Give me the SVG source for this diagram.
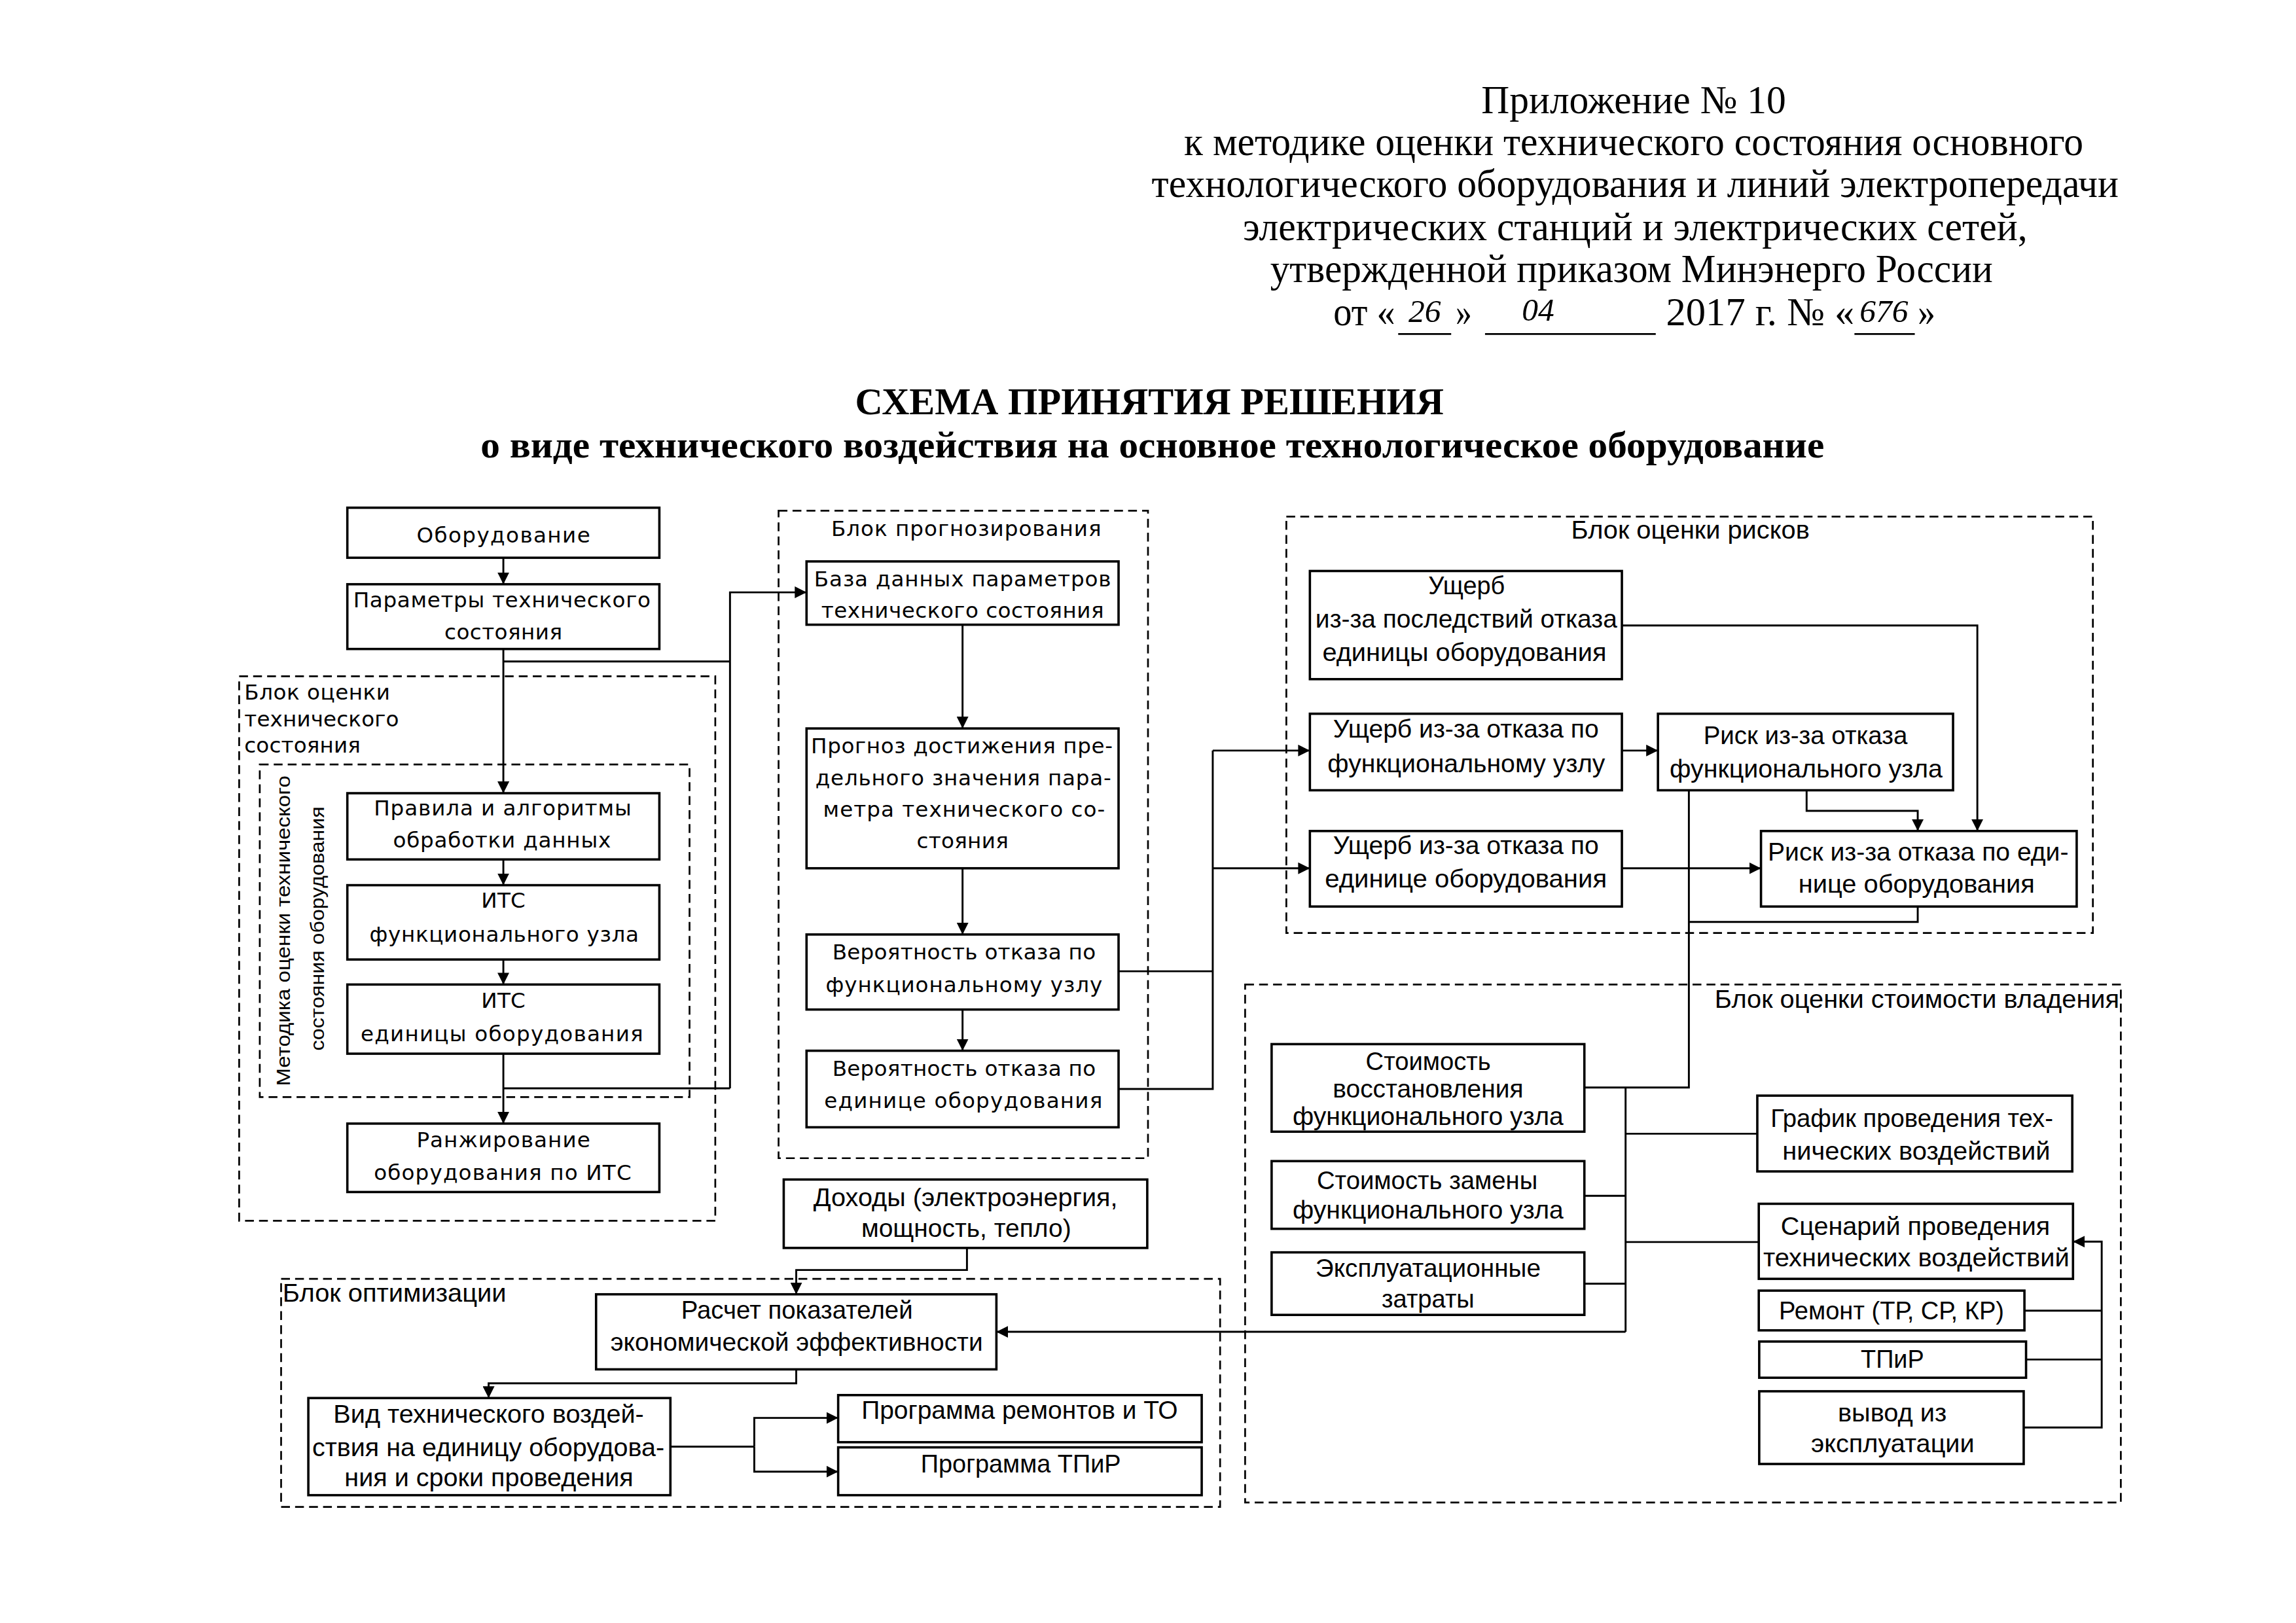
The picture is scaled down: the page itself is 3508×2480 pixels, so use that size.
<svg xmlns="http://www.w3.org/2000/svg" width="3508" height="2480" viewBox="0 0 3508 2480">
<defs>
<style>
.h{font-family:"Liberation Serif","Times New Roman",serif;font-size:27px;text-anchor:middle;fill:#000}
.hs{font-family:"Liberation Serif","Times New Roman",serif;font-size:27px;text-anchor:start;fill:#000}
.hw{font-family:"Liberation Serif","Times New Roman",serif;font-size:22px;font-style:italic;text-anchor:middle;fill:#000}
.t{font-family:"Liberation Serif","Times New Roman",serif;font-size:25.5px;font-weight:bold;text-anchor:middle;fill:#000}
.v{font-family:"DejaVu Sans",Verdana,sans-serif;font-size:14.5px;text-anchor:middle;fill:#000}
.vs{font-family:"DejaVu Sans",Verdana,sans-serif;font-size:14.5px;text-anchor:start;fill:#000}
.c{font-family:"Liberation Sans",Arial,sans-serif;font-size:17px;text-anchor:middle;fill:#000}
.cs{font-family:"Liberation Sans",Arial,sans-serif;font-size:17px;text-anchor:start;fill:#000}
.m{font-family:"Liberation Sans",Arial,sans-serif;font-size:13.5px;text-anchor:middle;fill:#000}
.box{fill:#fff;stroke:#000;stroke-width:1.6}
.dash{fill:none;stroke:#000;stroke-width:1.2;stroke-dasharray:6 3.5}
.ln{fill:none;stroke:#000;stroke-width:1.3}
.ul{stroke:#000;stroke-width:1.2}
.arr{marker-end:url(#ah)}
</style>
<marker id="ah" markerUnits="userSpaceOnUse" markerWidth="8" markerHeight="8" refX="8" refY="4" orient="auto">
<path d="M0,0 L8,4 L0,8 z" fill="#000"/>
</marker>
</defs>
<rect x="0" y="0" width="3508" height="2480" fill="#fff"/>
<g transform="scale(2.2487)">
<g id="header">
<text class="h" x="1110" y="77" textLength="207" lengthAdjust="spacingAndGlyphs">Приложение № 10</text>
<text class="h" x="1110" y="105.5" textLength="611" lengthAdjust="spacingAndGlyphs">к методике оценки технического состояния основного</text>
<text class="h" x="1111" y="134" textLength="657" lengthAdjust="spacingAndGlyphs">технологического оборудования и линий электропередачи</text>
<text class="h" x="1111" y="163" textLength="533" lengthAdjust="spacingAndGlyphs">электрических станций и электрических сетей,</text>
<text class="h" x="1108.5" y="191.5" textLength="491" lengthAdjust="spacingAndGlyphs">утвержденной приказом Минэнерго России</text>
<text class="hs" x="906" y="221" textLength="42" lengthAdjust="spacingAndGlyphs">от «</text>
<text class="hw" x="968" y="219">26</text>
<line class="ul" x1="950" y1="227" x2="986" y2="227"/>
<text class="hs" x="989" y="221" textLength="11" lengthAdjust="spacingAndGlyphs">»</text>
<text class="hw" x="1045" y="218">04</text>
<line class="ul" x1="1009" y1="227" x2="1125" y2="227"/>
<text class="hs" x="1132" y="221" textLength="128" lengthAdjust="spacingAndGlyphs">2017 г. № «</text>
<text class="hw" x="1280" y="219">676</text>
<line class="ul" x1="1260" y1="227" x2="1301" y2="227"/>
<text class="hs" x="1303" y="221" textLength="12" lengthAdjust="spacingAndGlyphs">»</text>
</g>
<g id="title">
<text class="t" x="781" y="281.5" textLength="400" lengthAdjust="spacingAndGlyphs">СХЕМА ПРИНЯТИЯ РЕШЕНИЯ</text>
<text class="t" x="783" y="311" textLength="913" lengthAdjust="spacingAndGlyphs">о виде технического воздействия на основное технологическое оборудование</text>
</g>

<g id="block-tech-state">
<rect class="dash" x="162.5" y="459.5" width="323.5" height="370"/>
<text class="vs" x="166" y="475.5" textLength="99" lengthAdjust="spacing">Блок оценки</text>
<text class="vs" x="166" y="493.7" textLength="105" lengthAdjust="spacing">технического</text>
<text class="vs" x="166" y="511.5" textLength="79" lengthAdjust="spacing">состояния</text>
</g>
<g id="block-method">
<rect class="dash" x="176.5" y="519.5" width="292" height="226"/>
<text class="m" transform="translate(197,632.5) rotate(-90)" textLength="211" lengthAdjust="spacingAndGlyphs">Методика оценки технического</text>
<text class="m" transform="translate(220,631) rotate(-90)" textLength="166" lengthAdjust="spacingAndGlyphs">состояния оборудования</text>
</g>
<g id="block-forecast">
<rect class="dash" x="529" y="347" width="251" height="440"/>
<text class="v" x="656.5" y="364.2" textLength="183.5" lengthAdjust="spacing">Блок прогнозирования</text>
</g>
<g id="block-risk">
<rect class="dash" x="874" y="351" width="548" height="283"/>
<text class="c" x="1148.5" y="366" textLength="162" lengthAdjust="spacingAndGlyphs">Блок оценки рисков</text>
</g>
<g id="block-cost">
<rect class="dash" x="846" y="669" width="595" height="352"/>
<text class="cs" x="1165" y="685" textLength="275" lengthAdjust="spacingAndGlyphs">Блок оценки стоимости владения</text>
</g>
<g id="block-opt">
<rect class="dash" x="191" y="869" width="638" height="155"/>
<text class="cs" x="192" y="884.7" textLength="152" lengthAdjust="spacingAndGlyphs">Блок оптимизации</text>
</g>

<g id="n-equipment">
<rect class="box" x="236" y="345" width="212" height="34"/>
<text class="v" x="342" y="368.5" textLength="118" lengthAdjust="spacing">Оборудование</text>
</g>
<g id="n-params">
<rect class="box" x="236" y="397" width="212" height="44"/>
<text class="v" x="341" y="412.6" textLength="202" lengthAdjust="spacing">Параметры технического</text>
<text class="v" x="342" y="434.4" textLength="80" lengthAdjust="spacing">состояния</text>
</g>
<g id="n-rules">
<rect class="box" x="236" y="539" width="212" height="45"/>
<text class="v" x="341.5" y="554" textLength="175" lengthAdjust="spacing">Правила и алгоритмы</text>
<text class="v" x="341" y="576" textLength="148" lengthAdjust="spacing">обработки данных</text>
</g>
<g id="n-its-fu">
<rect class="box" x="236" y="601.5" width="212" height="50.5"/>
<text class="v" x="342" y="617" textLength="30" lengthAdjust="spacing">ИТС</text>
<text class="v" x="342.5" y="640" textLength="183" lengthAdjust="spacing">функционального узла</text>
</g>
<g id="n-its-eq">
<rect class="box" x="236" y="669" width="212" height="47"/>
<text class="v" x="342" y="685" textLength="30" lengthAdjust="spacing">ИТС</text>
<text class="v" x="341" y="707.5" textLength="192" lengthAdjust="spacing">единицы оборудования</text>
</g>
<g id="n-rank">
<rect class="box" x="236" y="763.5" width="212" height="46.5"/>
<text class="v" x="342" y="779.7" textLength="118" lengthAdjust="spacing">Ранжирование</text>
<text class="v" x="341.5" y="802" textLength="175" lengthAdjust="spacing">оборудования по ИТС</text>
</g>

<g id="n-db">
<rect class="box" x="548" y="381.5" width="212" height="43"/>
<text class="v" x="654" y="398.6" textLength="201.7" lengthAdjust="spacing">База данных параметров</text>
<text class="v" x="654" y="420" textLength="192" lengthAdjust="spacing">технического состояния</text>
</g>
<g id="n-forecast">
<rect class="box" x="548" y="495" width="212" height="95"/>
<text class="v" x="653.5" y="512" textLength="205" lengthAdjust="spacing">Прогноз достижения пре-</text>
<text class="v" x="654.5" y="533.5" textLength="201" lengthAdjust="spacing">дельного значения пара-</text>
<text class="v" x="655" y="555" textLength="191.5" lengthAdjust="spacing">метра технического со-</text>
<text class="v" x="654" y="576.5" textLength="62.4" lengthAdjust="spacing">стояния</text>
</g>
<g id="n-prob-fu">
<rect class="box" x="548" y="635" width="212" height="51"/>
<text class="v" x="655" y="652" textLength="179" lengthAdjust="spacing">Вероятность отказа по</text>
<text class="v" x="655" y="674" textLength="188" lengthAdjust="spacing">функциональному узлу</text>
</g>
<g id="n-prob-eq">
<rect class="box" x="548" y="714" width="212" height="52"/>
<text class="v" x="655" y="731" textLength="179" lengthAdjust="spacing">Вероятность отказа по</text>
<text class="v" x="654.5" y="753" textLength="189" lengthAdjust="spacing">единице оборудования</text>
</g>

<g id="n-damage-cons">
<rect class="box" x="890" y="388" width="212" height="73.5"/>
<text class="c" x="996.5" y="404" textLength="52" lengthAdjust="spacingAndGlyphs">Ущерб</text>
<text class="c" x="996.3" y="426.5" textLength="205" lengthAdjust="spacingAndGlyphs">из-за последствий отказа</text>
<text class="c" x="995" y="449" textLength="193" lengthAdjust="spacingAndGlyphs">единицы оборудования</text>
</g>
<g id="n-damage-fu">
<rect class="box" x="890" y="485" width="212" height="52"/>
<text class="c" x="996" y="501" textLength="180.6" lengthAdjust="spacingAndGlyphs">Ущерб из-за отказа по</text>
<text class="c" x="996.3" y="524.7" textLength="188.6" lengthAdjust="spacingAndGlyphs">функциональному узлу</text>
</g>
<g id="n-risk-fu">
<rect class="box" x="1126.5" y="485" width="200.5" height="52"/>
<text class="c" x="1226.7" y="505.8" textLength="138.6" lengthAdjust="spacingAndGlyphs">Риск из-за отказа</text>
<text class="c" x="1227.1" y="528.4" textLength="185.4" lengthAdjust="spacingAndGlyphs">функционального узла</text>
</g>
<g id="n-damage-eq">
<rect class="box" x="890" y="564.7" width="212" height="51.3"/>
<text class="c" x="996" y="580.3" textLength="180.6" lengthAdjust="spacingAndGlyphs">Ущерб из-за отказа по</text>
<text class="c" x="996" y="603" textLength="191.6" lengthAdjust="spacingAndGlyphs">единице оборудования</text>
</g>
<g id="n-risk-eq">
<rect class="box" x="1196.5" y="564.7" width="214.5" height="51.3"/>
<text class="c" x="1303.3" y="585" textLength="204.3" lengthAdjust="spacingAndGlyphs">Риск из-за отказа по еди-</text>
<text class="c" x="1302.2" y="606.7" textLength="160.5" lengthAdjust="spacingAndGlyphs">нице оборудования</text>
</g>

<g id="n-cost-restore">
<rect class="box" x="864" y="709.5" width="212.5" height="59.5"/>
<text class="c" x="970.4" y="727" textLength="85" lengthAdjust="spacingAndGlyphs">Стоимость</text>
<text class="c" x="970.3" y="745.8" textLength="129.5" lengthAdjust="spacingAndGlyphs">восстановления</text>
<text class="c" x="970.3" y="764.6" textLength="184" lengthAdjust="spacingAndGlyphs">функционального узла</text>
</g>
<g id="n-cost-replace">
<rect class="box" x="864" y="789" width="212.5" height="46"/>
<text class="c" x="969.7" y="808" textLength="150" lengthAdjust="spacingAndGlyphs">Стоимость замены</text>
<text class="c" x="970.3" y="828" textLength="184" lengthAdjust="spacingAndGlyphs">функционального узла</text>
</g>
<g id="n-opex">
<rect class="box" x="864" y="851" width="212.5" height="42.5"/>
<text class="c" x="970.3" y="867.6" textLength="153" lengthAdjust="spacingAndGlyphs">Эксплуатационные</text>
<text class="c" x="970.3" y="888.7" textLength="63" lengthAdjust="spacingAndGlyphs">затраты</text>
</g>
<g id="n-schedule">
<rect class="box" x="1194" y="744.5" width="214" height="51.5"/>
<text class="c" x="1299" y="765.7" textLength="192" lengthAdjust="spacingAndGlyphs">График проведения тех-</text>
<text class="c" x="1302" y="788" textLength="182" lengthAdjust="spacingAndGlyphs">нических воздействий</text>
</g>
<g id="n-scenario">
<rect class="box" x="1195" y="818" width="213.5" height="51"/>
<text class="c" x="1301.4" y="839" textLength="183" lengthAdjust="spacingAndGlyphs">Сценарий проведения</text>
<text class="c" x="1302" y="860.6" textLength="208" lengthAdjust="spacingAndGlyphs">технических воздействий</text>
</g>
<g id="n-repair">
<rect class="box" x="1195" y="877" width="180.5" height="27"/>
<text class="c" x="1285.2" y="896.5" textLength="153" lengthAdjust="spacingAndGlyphs">Ремонт (ТР, СР, КР)</text>
</g>
<g id="n-tpir">
<rect class="box" x="1195.3" y="911.6" width="181.3" height="24.6"/>
<text class="c" x="1285.8" y="929.5" textLength="43" lengthAdjust="spacingAndGlyphs">ТПиР</text>
</g>
<g id="n-decom">
<rect class="box" x="1195.3" y="945.4" width="179.7" height="49.4"/>
<text class="c" x="1285.7" y="966" textLength="74" lengthAdjust="spacingAndGlyphs">вывод из</text>
<text class="c" x="1286" y="987" textLength="111" lengthAdjust="spacingAndGlyphs">эксплуатации</text>
</g>

<g id="n-income">
<rect class="box" x="532.5" y="801.5" width="247" height="46.5"/>
<text class="c" x="656" y="819.6" textLength="206.7" lengthAdjust="spacingAndGlyphs">Доходы (электроэнергия,</text>
<text class="c" x="656.5" y="840.5" textLength="142.6" lengthAdjust="spacingAndGlyphs">мощность, тепло)</text>
</g>
<g id="n-econ">
<rect class="box" x="405" y="879.5" width="272" height="51"/>
<text class="c" x="541.5" y="896" textLength="157.4" lengthAdjust="spacingAndGlyphs">Расчет показателей</text>
<text class="c" x="541.3" y="917.7" textLength="253" lengthAdjust="spacingAndGlyphs">экономической эффективности</text>
</g>
<g id="n-action">
<rect class="box" x="209.5" y="950" width="246" height="66"/>
<text class="c" x="332" y="967" textLength="211" lengthAdjust="spacingAndGlyphs">Вид технического воздей-</text>
<text class="c" x="331.8" y="989.6" textLength="239.3" lengthAdjust="spacingAndGlyphs">ствия на единицу оборудова-</text>
<text class="c" x="332.2" y="1009.8" textLength="196.3" lengthAdjust="spacingAndGlyphs">ния и сроки проведения</text>
</g>
<g id="n-prog-repair">
<rect class="box" x="569.5" y="948" width="247" height="32"/>
<text class="c" x="692.8" y="964" textLength="215" lengthAdjust="spacingAndGlyphs">Программа ремонтов и ТО</text>
</g>
<g id="n-prog-tpir">
<rect class="box" x="569.5" y="983.5" width="247" height="32.5"/>
<text class="c" x="693.6" y="1000.5" textLength="136" lengthAdjust="spacingAndGlyphs">Программа ТПиР</text>
</g>

<g id="connectors">
<path class="ln arr" d="M342,379 V397"/>
<path class="ln arr" d="M342,441 V539"/>
<path class="ln arr" d="M342,584 V601.5"/>
<path class="ln arr" d="M342,652 V669"/>
<path class="ln arr" d="M342,716 V763.5"/>
<path class="ln" d="M342,449.5 H496"/>
<path class="ln" d="M342,739.5 H496"/>
<path class="ln arr" d="M496,739.5 V402.5 H548"/>

<path class="ln arr" d="M654,424.5 V495"/>
<path class="ln arr" d="M654,590 V635"/>
<path class="ln arr" d="M654,686 V714"/>
<path class="ln" d="M760,660 H824"/>
<path class="ln" d="M760,740 H824 V510"/>
<path class="ln arr" d="M824,510 H890"/>
<path class="ln arr" d="M824,590 H890"/>

<path class="ln arr" d="M1102,425 H1343.5 V564.7"/>
<path class="ln arr" d="M1102,510 H1126.5"/>
<path class="ln arr" d="M1227.5,537 V551 H1303 V564.7"/>
<path class="ln arr" d="M1102,590 H1196.5"/>
<path class="ln" d="M1303,616 V626.5 H1147.5"/>
<path class="ln" d="M1147.5,537 V739 H1076.5"/>

<path class="ln" d="M1104.5,739 V905"/>
<path class="ln" d="M1104.5,770.4 H1194"/>
<path class="ln" d="M1076.5,812.6 H1104.5"/>
<path class="ln" d="M1104.5,844 H1195"/>
<path class="ln" d="M1076.5,872.3 H1104.5"/>
<path class="ln arr" d="M1104.5,905 H677"/>
<path class="ln" d="M1375.5,890.6 H1428"/>
<path class="ln" d="M1376.6,923.8 H1428"/>
<path class="ln arr" d="M1375,970 H1428 V843.7 H1408.5"/>

<path class="ln arr" d="M657,848 V863 H541 V879.5"/>
<path class="ln arr" d="M541,930.5 V940 H332 V950"/>
<path class="ln" d="M455.5,983 H512.5"/>
<path class="ln arr" d="M512.5,983 V963.5 H569.5"/>
<path class="ln arr" d="M512.5,983 V1000 H569.5"/>
</g>
</g>
</svg>
